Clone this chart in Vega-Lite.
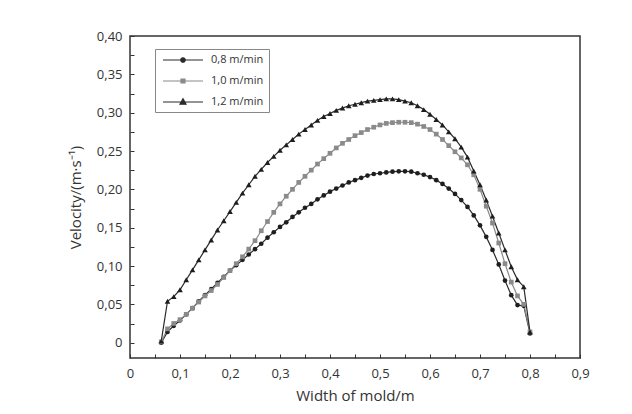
{
"$schema": "https://vega.github.io/schema/vega-lite/v6.json",
"width": 450, "height": 322,
"autosize": {"type": "none"},
"padding": {"left": 130, "top": 36, "right": 52, "bottom": 56},
"background": "white",
"config": {"view": {"stroke": "#333333", "strokeWidth": 1.5}, "font": "Open Sans"},
"data": {"values": [
{"x":0.0625,"v":0.000,"s":"0,8 m/min"},{"x":0.075,"v":0.014,"s":"0,8 m/min"},{"x":0.0875,"v":0.022,"s":"0,8 m/min"},{"x":0.1,"v":0.029,"s":"0,8 m/min"},{"x":0.1125,"v":0.037,"s":"0,8 m/min"},{"x":0.125,"v":0.045,"s":"0,8 m/min"},{"x":0.1375,"v":0.054,"s":"0,8 m/min"},{"x":0.15,"v":0.062,"s":"0,8 m/min"},{"x":0.1625,"v":0.070,"s":"0,8 m/min"},{"x":0.175,"v":0.078,"s":"0,8 m/min"},{"x":0.1875,"v":0.086,"s":"0,8 m/min"},{"x":0.2,"v":0.094,"s":"0,8 m/min"},{"x":0.2125,"v":0.101,"s":"0,8 m/min"},{"x":0.225,"v":0.108,"s":"0,8 m/min"},{"x":0.2375,"v":0.115,"s":"0,8 m/min"},{"x":0.25,"v":0.122,"s":"0,8 m/min"},{"x":0.2625,"v":0.129,"s":"0,8 m/min"},{"x":0.275,"v":0.137,"s":"0,8 m/min"},{"x":0.2875,"v":0.144,"s":"0,8 m/min"},{"x":0.3,"v":0.151,"s":"0,8 m/min"},{"x":0.3125,"v":0.157,"s":"0,8 m/min"},{"x":0.325,"v":0.164,"s":"0,8 m/min"},{"x":0.3375,"v":0.170,"s":"0,8 m/min"},{"x":0.35,"v":0.176,"s":"0,8 m/min"},{"x":0.3625,"v":0.181,"s":"0,8 m/min"},{"x":0.375,"v":0.187,"s":"0,8 m/min"},{"x":0.3875,"v":0.192,"s":"0,8 m/min"},{"x":0.4,"v":0.197,"s":"0,8 m/min"},{"x":0.4125,"v":0.201,"s":"0,8 m/min"},{"x":0.425,"v":0.205,"s":"0,8 m/min"},{"x":0.4375,"v":0.209,"s":"0,8 m/min"},{"x":0.45,"v":0.212,"s":"0,8 m/min"},{"x":0.4625,"v":0.215,"s":"0,8 m/min"},{"x":0.475,"v":0.218,"s":"0,8 m/min"},{"x":0.4875,"v":0.220,"s":"0,8 m/min"},{"x":0.5,"v":0.221,"s":"0,8 m/min"},{"x":0.5125,"v":0.222,"s":"0,8 m/min"},{"x":0.525,"v":0.223,"s":"0,8 m/min"},{"x":0.5375,"v":0.2235,"s":"0,8 m/min"},{"x":0.55,"v":0.2235,"s":"0,8 m/min"},{"x":0.5625,"v":0.223,"s":"0,8 m/min"},{"x":0.575,"v":0.221,"s":"0,8 m/min"},{"x":0.5875,"v":0.219,"s":"0,8 m/min"},{"x":0.6,"v":0.216,"s":"0,8 m/min"},{"x":0.6125,"v":0.212,"s":"0,8 m/min"},{"x":0.625,"v":0.207,"s":"0,8 m/min"},{"x":0.6375,"v":0.201,"s":"0,8 m/min"},{"x":0.65,"v":0.194,"s":"0,8 m/min"},{"x":0.6625,"v":0.186,"s":"0,8 m/min"},{"x":0.675,"v":0.177,"s":"0,8 m/min"},{"x":0.6875,"v":0.166,"s":"0,8 m/min"},{"x":0.7,"v":0.153,"s":"0,8 m/min"},{"x":0.7125,"v":0.138,"s":"0,8 m/min"},{"x":0.725,"v":0.121,"s":"0,8 m/min"},{"x":0.7375,"v":0.102,"s":"0,8 m/min"},{"x":0.75,"v":0.081,"s":"0,8 m/min"},{"x":0.7625,"v":0.062,"s":"0,8 m/min"},{"x":0.775,"v":0.049,"s":"0,8 m/min"},{"x":0.7875,"v":0.048,"s":"0,8 m/min"},{"x":0.8,"v":0.012,"s":"0,8 m/min"},
{"x":0.0625,"v":0.001,"s":"1,0 m/min"},{"x":0.075,"v":0.018,"s":"1,0 m/min"},{"x":0.0875,"v":0.025,"s":"1,0 m/min"},{"x":0.1,"v":0.030,"s":"1,0 m/min"},{"x":0.1125,"v":0.037,"s":"1,0 m/min"},{"x":0.125,"v":0.045,"s":"1,0 m/min"},{"x":0.1375,"v":0.053,"s":"1,0 m/min"},{"x":0.15,"v":0.061,"s":"1,0 m/min"},{"x":0.1625,"v":0.068,"s":"1,0 m/min"},{"x":0.175,"v":0.076,"s":"1,0 m/min"},{"x":0.1875,"v":0.085,"s":"1,0 m/min"},{"x":0.2,"v":0.094,"s":"1,0 m/min"},{"x":0.2125,"v":0.103,"s":"1,0 m/min"},{"x":0.225,"v":0.112,"s":"1,0 m/min"},{"x":0.2375,"v":0.122,"s":"1,0 m/min"},{"x":0.25,"v":0.133,"s":"1,0 m/min"},{"x":0.2625,"v":0.146,"s":"1,0 m/min"},{"x":0.275,"v":0.158,"s":"1,0 m/min"},{"x":0.2875,"v":0.170,"s":"1,0 m/min"},{"x":0.3,"v":0.181,"s":"1,0 m/min"},{"x":0.3125,"v":0.191,"s":"1,0 m/min"},{"x":0.325,"v":0.200,"s":"1,0 m/min"},{"x":0.3375,"v":0.209,"s":"1,0 m/min"},{"x":0.35,"v":0.217,"s":"1,0 m/min"},{"x":0.3625,"v":0.225,"s":"1,0 m/min"},{"x":0.375,"v":0.233,"s":"1,0 m/min"},{"x":0.3875,"v":0.240,"s":"1,0 m/min"},{"x":0.4,"v":0.247,"s":"1,0 m/min"},{"x":0.4125,"v":0.254,"s":"1,0 m/min"},{"x":0.425,"v":0.260,"s":"1,0 m/min"},{"x":0.4375,"v":0.265,"s":"1,0 m/min"},{"x":0.45,"v":0.270,"s":"1,0 m/min"},{"x":0.4625,"v":0.274,"s":"1,0 m/min"},{"x":0.475,"v":0.278,"s":"1,0 m/min"},{"x":0.4875,"v":0.281,"s":"1,0 m/min"},{"x":0.5,"v":0.284,"s":"1,0 m/min"},{"x":0.5125,"v":0.286,"s":"1,0 m/min"},{"x":0.525,"v":0.287,"s":"1,0 m/min"},{"x":0.5375,"v":0.2875,"s":"1,0 m/min"},{"x":0.55,"v":0.2875,"s":"1,0 m/min"},{"x":0.5625,"v":0.287,"s":"1,0 m/min"},{"x":0.575,"v":0.285,"s":"1,0 m/min"},{"x":0.5875,"v":0.282,"s":"1,0 m/min"},{"x":0.6,"v":0.278,"s":"1,0 m/min"},{"x":0.6125,"v":0.272,"s":"1,0 m/min"},{"x":0.625,"v":0.265,"s":"1,0 m/min"},{"x":0.6375,"v":0.257,"s":"1,0 m/min"},{"x":0.65,"v":0.249,"s":"1,0 m/min"},{"x":0.6625,"v":0.241,"s":"1,0 m/min"},{"x":0.675,"v":0.232,"s":"1,0 m/min"},{"x":0.6875,"v":0.219,"s":"1,0 m/min"},{"x":0.7,"v":0.200,"s":"1,0 m/min"},{"x":0.7125,"v":0.178,"s":"1,0 m/min"},{"x":0.725,"v":0.156,"s":"1,0 m/min"},{"x":0.7375,"v":0.130,"s":"1,0 m/min"},{"x":0.75,"v":0.103,"s":"1,0 m/min"},{"x":0.7625,"v":0.079,"s":"1,0 m/min"},{"x":0.775,"v":0.061,"s":"1,0 m/min"},{"x":0.7875,"v":0.050,"s":"1,0 m/min"},{"x":0.8,"v":0.014,"s":"1,0 m/min"},
{"x":0.0625,"v":0.002,"s":"1,2 m/min"},{"x":0.075,"v":0.054,"s":"1,2 m/min"},{"x":0.0875,"v":0.060,"s":"1,2 m/min"},{"x":0.1,"v":0.069,"s":"1,2 m/min"},{"x":0.1125,"v":0.082,"s":"1,2 m/min"},{"x":0.125,"v":0.095,"s":"1,2 m/min"},{"x":0.1375,"v":0.108,"s":"1,2 m/min"},{"x":0.15,"v":0.121,"s":"1,2 m/min"},{"x":0.1625,"v":0.134,"s":"1,2 m/min"},{"x":0.175,"v":0.147,"s":"1,2 m/min"},{"x":0.1875,"v":0.159,"s":"1,2 m/min"},{"x":0.2,"v":0.171,"s":"1,2 m/min"},{"x":0.2125,"v":0.183,"s":"1,2 m/min"},{"x":0.225,"v":0.195,"s":"1,2 m/min"},{"x":0.2375,"v":0.206,"s":"1,2 m/min"},{"x":0.25,"v":0.217,"s":"1,2 m/min"},{"x":0.2625,"v":0.226,"s":"1,2 m/min"},{"x":0.275,"v":0.235,"s":"1,2 m/min"},{"x":0.2875,"v":0.243,"s":"1,2 m/min"},{"x":0.3,"v":0.251,"s":"1,2 m/min"},{"x":0.3125,"v":0.258,"s":"1,2 m/min"},{"x":0.325,"v":0.265,"s":"1,2 m/min"},{"x":0.3375,"v":0.272,"s":"1,2 m/min"},{"x":0.35,"v":0.278,"s":"1,2 m/min"},{"x":0.3625,"v":0.284,"s":"1,2 m/min"},{"x":0.375,"v":0.290,"s":"1,2 m/min"},{"x":0.3875,"v":0.295,"s":"1,2 m/min"},{"x":0.4,"v":0.299,"s":"1,2 m/min"},{"x":0.4125,"v":0.303,"s":"1,2 m/min"},{"x":0.425,"v":0.306,"s":"1,2 m/min"},{"x":0.4375,"v":0.309,"s":"1,2 m/min"},{"x":0.45,"v":0.311,"s":"1,2 m/min"},{"x":0.4625,"v":0.313,"s":"1,2 m/min"},{"x":0.475,"v":0.315,"s":"1,2 m/min"},{"x":0.4875,"v":0.316,"s":"1,2 m/min"},{"x":0.5,"v":0.317,"s":"1,2 m/min"},{"x":0.5125,"v":0.318,"s":"1,2 m/min"},{"x":0.525,"v":0.318,"s":"1,2 m/min"},{"x":0.5375,"v":0.317,"s":"1,2 m/min"},{"x":0.55,"v":0.315,"s":"1,2 m/min"},{"x":0.5625,"v":0.313,"s":"1,2 m/min"},{"x":0.575,"v":0.309,"s":"1,2 m/min"},{"x":0.5875,"v":0.304,"s":"1,2 m/min"},{"x":0.6,"v":0.298,"s":"1,2 m/min"},{"x":0.6125,"v":0.291,"s":"1,2 m/min"},{"x":0.625,"v":0.284,"s":"1,2 m/min"},{"x":0.6375,"v":0.275,"s":"1,2 m/min"},{"x":0.65,"v":0.266,"s":"1,2 m/min"},{"x":0.6625,"v":0.255,"s":"1,2 m/min"},{"x":0.675,"v":0.242,"s":"1,2 m/min"},{"x":0.6875,"v":0.224,"s":"1,2 m/min"},{"x":0.7,"v":0.206,"s":"1,2 m/min"},{"x":0.7125,"v":0.186,"s":"1,2 m/min"},{"x":0.725,"v":0.165,"s":"1,2 m/min"},{"x":0.7375,"v":0.143,"s":"1,2 m/min"},{"x":0.75,"v":0.121,"s":"1,2 m/min"},{"x":0.7625,"v":0.099,"s":"1,2 m/min"},{"x":0.775,"v":0.082,"s":"1,2 m/min"},{"x":0.7875,"v":0.073,"s":"1,2 m/min"},{"x":0.8,"v":0.014,"s":"1,2 m/min"}
]},
"encoding": {
  "x": {"field": "x", "type": "quantitative",
    "scale": {"domain": [0, 0.9], "nice": false, "zero": false},
    "axis": {"values": [0,0.05,0.1,0.15,0.2,0.25,0.3,0.35,0.4,0.45,0.5,0.55,0.6,0.65,0.7,0.75,0.8,0.85,0.9],
      "labelExpr": "abs(datum.value*10 - round(datum.value*10)) < 0.001 ? (datum.value == 0 ? '0' : replace(format(datum.value, '.1f'), '.', ',')) : ''",
      "grid": false, "domain": false, "tickSize": -4, "tickColor": "#333333", "tickWidth": 1,
      "labelFontSize": 13, "labelColor": "#333333", "labelPadding": 13, "labelOverlap": false, "labelFlush": false,
      "title": "Width of mold/m", "titleFontSize": 15, "titleFontWeight": "normal", "titleColor": "#333333", "titlePadding": 8}},
  "y": {"field": "v", "type": "quantitative",
    "scale": {"domain": [-0.02, 0.4], "nice": false, "zero": false},
    "axis": {"values": [0,0.025,0.05,0.075,0.1,0.125,0.15,0.175,0.2,0.225,0.25,0.275,0.3,0.325,0.35,0.375,0.4],
      "labelExpr": "abs(datum.value*20 - round(datum.value*20)) < 0.001 ? (datum.value == 0 ? '0' : replace(format(datum.value, '.2f'), '.', ',')) : ''",
      "grid": false, "domain": false, "tickSize": -4, "tickColor": "#333333", "tickWidth": 1,
      "labelFontSize": 13, "labelColor": "#333333", "labelPadding": 12, "labelOverlap": false, "labelFlush": false,
      "title": "Velocity/(m·s⁻¹)", "titleFontSize": 15, "titleFontWeight": "normal", "titleColor": "#333333", "titlePadding": 13}}
},
"layer": [
  {"mark": {"type": "line", "strokeWidth": 1.2},
   "encoding": {"color": {"field": "s", "type": "nominal",
      "scale": {"domain": ["0,8 m/min", "1,0 m/min", "1,2 m/min"], "range": ["#2b2b2b", "#8a8a8a", "#2b2b2b"]},
      "legend": {"title": null, "orient": "none", "legendX": 25, "legendY": 13, "direction": "vertical",
        "padding": 5, "strokeColor": "#888888", "fillColor": "white",
        "symbolSize": 100, "symbolOffset": 17, "labelOffset": 22, "rowPadding": 10,
        "labelFontSize": 11, "labelColor": "#333333", "labelFont": "Open Sans", "symbolStrokeWidth": 1.2,
        "encode": {"symbols": {"update": {
          "shape": {"signal": "datum.value == '0,8 m/min' ? 'M-4,0H4M-0.45,0A0.45,0.45,0,1,0,0.45,0A0.45,0.45,0,1,0,-0.45,0Z' : datum.value == '1,0 m/min' ? 'M-4,0H4M-0.4,-0.4H0.4V0.4H-0.4Z' : 'M-4,0H4M0,-0.65L0.6,0.45H-0.6Z'"},
          "fill": {"scale": "color", "field": "value"},
          "stroke": {"scale": "color", "field": "value"}}}}}}}},
  {"transform": [{"filter": "datum.s == '0,8 m/min'"}],
   "mark": {"type": "point", "shape": "circle", "filled": true, "opacity": 1, "size": 22, "color": "#1e1e1e"}},
  {"transform": [{"filter": "datum.s == '1,0 m/min'"}],
   "mark": {"type": "point", "shape": "square", "filled": true, "opacity": 1, "size": 22, "color": "#8a8a8a"}},
  {"transform": [{"filter": "datum.s == '1,2 m/min'"}],
   "mark": {"type": "point", "shape": "triangle-up", "filled": true, "opacity": 1, "size": 32, "color": "#1e1e1e"}}
]
}
